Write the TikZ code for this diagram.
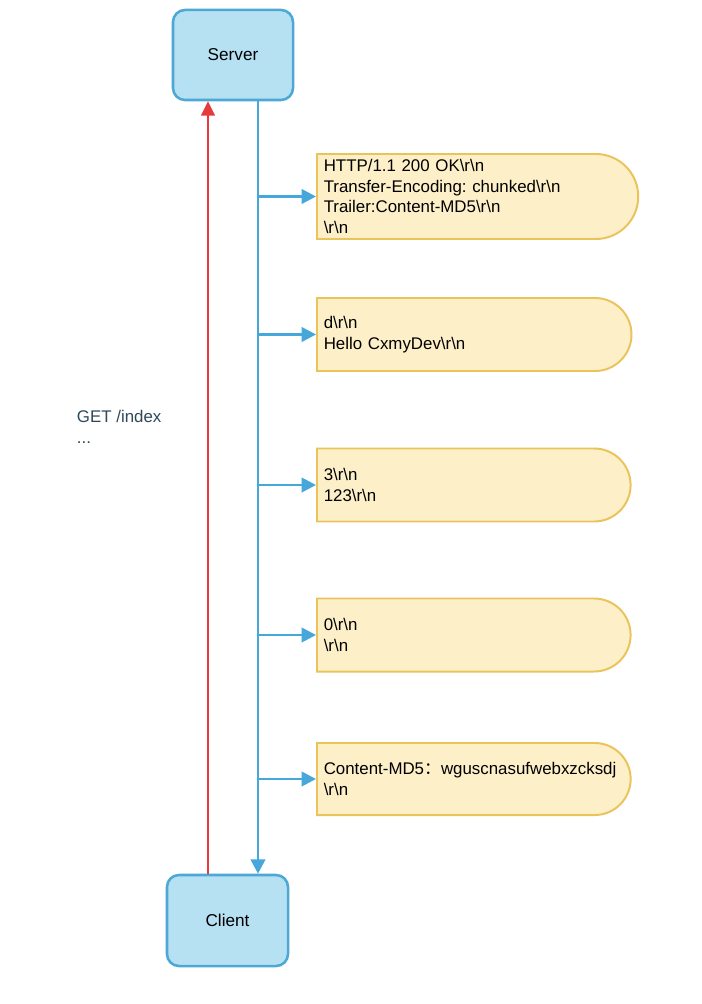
\documentclass[tikz,border=0pt]{standalone}
\usepackage{fontspec}
\setmainfont{Liberation Sans}
\newfontfamily\cjk{Noto Sans CJK SC}
\usetikzlibrary{arrows.meta,shapes.misc}
\frenchspacing
\definecolor{peerfill}{HTML}{B5E1F3}
\definecolor{peerline}{HTML}{4EA8D6}
\definecolor{resline}{HTML}{45A7DA}
\definecolor{getline}{HTML}{E53B3B}
\definecolor{chunkfill}{HTML}{FDF0C9}
\definecolor{chunkline}{HTML}{EBC35B}
\definecolor{gettext}{HTML}{2E4A5A}
\newcommand{\crlf}{\textbackslash r\textbackslash n}
\tikzset{
  peer/.style={draw=peerline, fill=peerfill, line width=1.8pt, rounded corners=0.3cm,
    font=\fontsize{12.2}{14}\selectfont},
  chunk/.style={rounded rectangle, rounded rectangle west arc=none, draw=chunkline,
    fill=chunkfill, line width=1.4pt, anchor=west, align=left, text width=7.4cm,
    inner xsep=0.17cm, font=\fontsize{12}{14.6}\selectfont},
  res/.style={draw=resline, line width=2pt, -{Triangle[length=0.36cm,width=0.36cm]}},
  get/.style={draw=getline, line width=1.5pt, -{Triangle[length=0.36cm,width=0.34cm]}}
}

\begin{document}
\begin{tikzpicture}[x=0.025cm,y=-0.025cm]
\useasboundingbox[fill=white] (0,0) rectangle (702,1004);

\node[peer, minimum width=3cm, minimum height=2.25cm] (server) at (233,55) {Server};
\node[peer, minimum width=3.025cm, minimum height=2.275cm] (client) at (227.5,920.5) {Client};

\coordinate (getx) at (208,0);
\coordinate (resx) at (258,0);

\node[chunk, minimum height=2.125cm, text width=7.15cm] (head) at (316,196.5)
  {HTTP/1.1 200 OK\crlf\\Transfer-Encoding: chunked\crlf\\Trailer:Content-MD5\crlf\\\crlf};
\node[chunk, minimum height=1.825cm] (body1) at (316,334.5) {d\crlf\\Hello CxmyDev\crlf};
\node[chunk, minimum height=1.825cm] (body2) at (316,485) {3\crlf\\123\crlf};
\node[chunk, minimum height=1.825cm] (last) at (316,635) {0\crlf\\\crlf};
\node[chunk, minimum height=1.8cm] (trailer) at (316,779)
  {Content-MD5{\cjk ：}wguscnasufwebxzcksdj\\\crlf};

\node[anchor=west, align=left, text=gettext, font=\fontsize{12}{14.5}\selectfont] (req) at (72,427)
  {GET /index\\...};

\draw[get] (client.north -| getx) -- (server.south -| getx);
\draw[res] (server.south -| resx) -- (client.north -| resx);
\foreach \n in {head,body1,body2,last,trailer}
  \draw[res] (\n.west -| resx) -- (\n.west);
\end{tikzpicture}
\end{document}
